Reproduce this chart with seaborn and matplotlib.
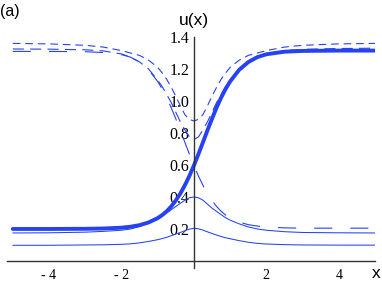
import matplotlib
matplotlib.use("Agg")
import matplotlib.pyplot as plt
from matplotlib.ticker import MultipleLocator
import seaborn as sns

# values
x = [-5, -4, -3, -2.5, -2, -1.75, -1.5, -1.25, -1, -0.875, -0.75, -0.625, -0.5, -0.375,
     -0.25, -0.125, 0, 0.125, 0.25, 0.375, 0.5, 0.625, 0.75, 0.875, 1, 1.25, 1.5, 1.75,
     2, 2.5, 3, 4, 5]

# thick kink
kink = [0.200, 0.200, 0.201, 0.203, 0.208, 0.214, 0.224, 0.241, 0.268, 0.287, 0.311, 0.341,
        0.378, 0.421, 0.473, 0.531, 0.597, 0.668, 0.742, 0.817, 0.889, 0.958, 1.020, 1.075,
        1.122, 1.195, 1.243, 1.274, 1.292, 1.308, 1.313, 1.315, 1.315]

# long dashed antikink
antikink = [1.310, 1.310, 1.308, 1.303, 1.290, 1.274, 1.243, 1.195, 1.122, 1.075, 1.020, 0.958,
            0.889, 0.817, 0.742, 0.668, 0.597, 0.531, 0.473, 0.421, 0.378, 0.341, 0.311, 0.287,
            0.268, 0.243, 0.227, 0.218, 0.212, 0.207, 0.205, 0.205, 0.205]

# short dashed dip (upper)
dip1 = [1.360, 1.357, 1.348, 1.337, 1.315, 1.300, 1.285, 1.255, 1.210, 1.175, 1.135, 1.085,
        1.030, 0.970, 0.915, 0.885, 0.875, 0.885, 0.915, 0.970, 1.030, 1.085, 1.135, 1.175,
        1.210, 1.255, 1.285, 1.300, 1.315, 1.337, 1.348, 1.357, 1.360]

# medium dashed dip (lower)
dip2 = [1.325, 1.324, 1.320, 1.313, 1.294, 1.274, 1.244, 1.200, 1.130, 1.090, 1.040, 0.990,
        0.930, 0.870, 0.820, 0.775, 0.760, 0.775, 0.820, 0.870, 0.930, 0.990, 1.040, 1.090,
        1.130, 1.200, 1.245, 1.275, 1.295, 1.315, 1.323, 1.328, 1.330]

# thin solid bumps
bump_hi = [0.175, 0.176, 0.180, 0.185, 0.192, 0.200, 0.215, 0.235, 0.260, 0.280, 0.300, 0.320,
           0.340, 0.360, 0.380, 0.395, 0.400, 0.395, 0.380, 0.355, 0.330, 0.310, 0.290, 0.270,
           0.255, 0.232, 0.213, 0.200, 0.192, 0.183, 0.178, 0.176, 0.175]
bump_lo = [0.098, 0.098, 0.100, 0.101, 0.104, 0.107, 0.113, 0.122, 0.133, 0.140, 0.148, 0.158,
           0.168, 0.178, 0.189, 0.199, 0.204, 0.201, 0.193, 0.182, 0.172, 0.162, 0.153, 0.145,
           0.139, 0.127, 0.117, 0.110, 0.106, 0.102, 0.100, 0.099, 0.099]

x_ticks = [-4, -2, 2, 4]
x_ticklabels = ["- 4", "- 2", "2", "4"]
y_ticks = [0.2, 0.4, 0.6, 0.8, 1.0, 1.2, 1.4]
y_ticklabels = ["0.2", "0.4", "0.6", "0.8", "1.0", "1.2", "1.4"]

sns.set_style("white")
plt.rcParams["lines.scale_dashes"] = False
blue = "#2642f2"

fig = plt.figure(figsize=(3.82, 2.84), dpi=100)
ax = fig.add_axes([7 / 382, 16 / 284, 368 / 382, 231 / 284])

sns.lineplot(x=x, y=dip1, ax=ax, color=blue, lw=0.8, linestyle=(0, (5.5, 3.5)))
sns.lineplot(x=x, y=dip2, ax=ax, color=blue, lw=0.8, linestyle=(0, (8, 4.5)))
sns.lineplot(x=x, y=antikink, ax=ax, color=blue, lw=0.8, linestyle=(0, (13, 13)))
sns.lineplot(x=x, y=bump_hi, ax=ax, color=blue, lw=0.75)
sns.lineplot(x=x, y=bump_lo, ax=ax, color=blue, lw=0.75)
sns.lineplot(x=x, y=kink, ax=ax, color=blue, lw=2.8)

ax.set_xlim(-5.16, 5.0)
ax.set_ylim(-0.044, 1.4)

for s in ["top", "right"]:
    ax.spines[s].set_visible(False)
ax.spines["left"].set_position(("data", 0))
ax.spines["bottom"].set_position(("data", 0))
for s in ["left", "bottom"]:
    ax.spines[s].set_color("#333333")
    ax.spines[s].set_linewidth(1.0)

ax.set_xticks(x_ticks)
ax.set_xticklabels(x_ticklabels, family="Liberation Serif", fontsize=10, color="black")
ax.set_yticks(y_ticks)
ax.set_yticklabels(y_ticklabels, family="Liberation Serif", fontsize=11.5, color="black")
ax.xaxis.set_minor_locator(MultipleLocator(0.5))
ax.yaxis.set_minor_locator(MultipleLocator(0.05))
ax.tick_params(which="both", direction="in", color="#333333", width=0.8)
ax.tick_params(which="major", length=3)
ax.tick_params(which="minor", length=1.6)
ax.tick_params(axis="x", which="major", pad=5.5)
ax.tick_params(axis="y", which="major", pad=3.5)
ax.set_xlabel("")
ax.set_ylabel("")

fig.text(194 / 382, 1 - 20 / 284, "u(x)", ha="center", va="center",
         family="Liberation Sans", fontsize=12.5, color="black")
fig.text(0 / 382, 1 - 11.5 / 284, "(a)", ha="left", va="center",
         family="Liberation Sans", fontsize=11.5, color="black")
fig.text(376 / 382, 1 - 274 / 284, "x", ha="center", va="center",
         family="Liberation Sans", fontsize=12.5, color="black")

fig.savefig("out.png", dpi=100)
